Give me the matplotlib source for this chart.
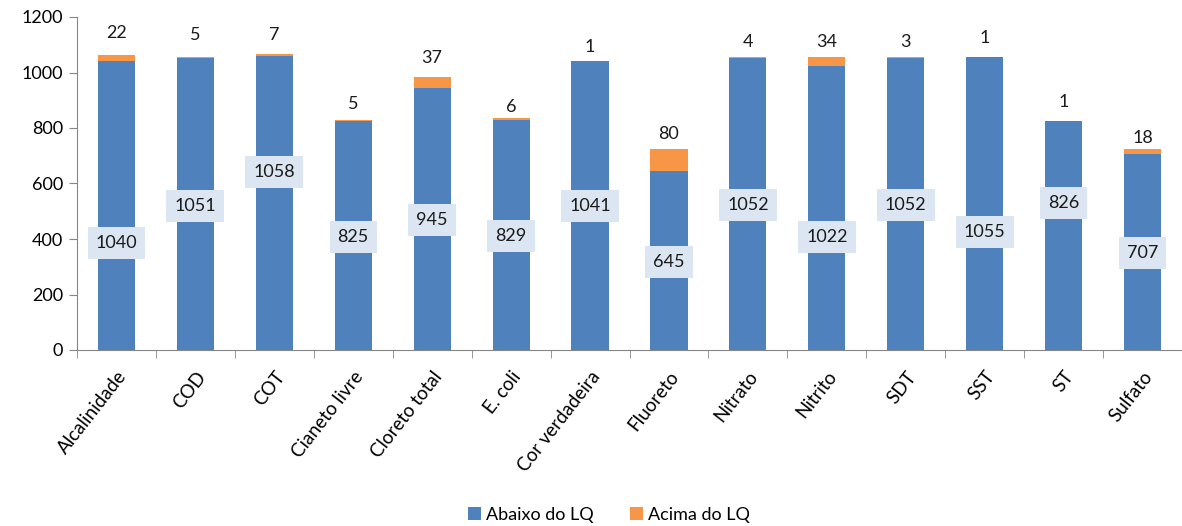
import matplotlib.pyplot as plt
import numpy as np

plt.rcParams['font.family'] = ['Lato', 'DejaVu Sans']

# dados
parametros = ['Alcalinidade', 'COD', 'COT', 'Cianeto livre', 'Cloreto total', 'E. coli',
              'Cor verdadeira', 'Fluoreto', 'Nitrato', 'Nitrito', 'SDT', 'SST', 'ST', 'Sulfato']
abaixo_lq = [1040, 1051, 1058, 825, 945, 829, 1041, 645, 1052, 1022, 1052, 1055, 826, 707]
acima_lq = [22, 5, 7, 5, 37, 6, 1, 80, 4, 34, 3, 1, 1, 18]

# posicao (y) dos rotulos azuis, movidos a mao como no original
pos_rotulo = [386, 519, 641, 407, 468, 411, 519, 317, 522, 407, 522, 425, 530, 350]
# afastamento (pt) dos rotulos laranja acima da barra
desloc_topo = [16, 16, 14, 11, 14, 8, 10, 11, 11, 11, 11, 14, 13, 8]

azul = '#4F81BD'
laranja = '#F79646'
cinza = '#868686'

fig = plt.figure(figsize=(11.82, 5.26), dpi=100)
ax = fig.add_axes([77 / 1182, 1 - 350 / 526, (1182 - 77) / 1182, (350 - 17) / 526])

x = np.arange(len(parametros))
ax.bar(x, abaixo_lq, width=0.47, color=azul, label='Abaixo do LQ')
ax.bar(x, acima_lq, width=0.47, bottom=abaixo_lq, color=laranja, label='Acima do LQ')

for i in range(len(parametros)):
    ax.text(x[i], pos_rotulo[i], str(abaixo_lq[i]), ha='center', va='center', fontsize=13,
            color='#1a1a1a',
            bbox=dict(boxstyle='square,pad=0.45', fc='#DCE6F2', ec='none'))
    ax.annotate(str(acima_lq[i]), (x[i], abaixo_lq[i] + acima_lq[i]),
                xytext=(0, desloc_topo[i]), textcoords='offset points',
                ha='center', va='center', fontsize=13, color='#1a1a1a')

ax.set_xlim(-0.5, len(parametros) - 0.5)
ax.set_ylim(0, 1200)
ax.set_yticks(range(0, 1201, 200))

ax.set_xticks(x)
ax.set_xticklabels(parametros, rotation=52, ha='right', rotation_mode='anchor')
ax.set_xticks(np.arange(-0.5, len(parametros), 1), minor=True)
ax.tick_params(axis='x', which='major', length=0, pad=13, labelsize=13.5)
ax.tick_params(axis='x', which='minor', length=6, color=cinza, direction='out')
ax.tick_params(axis='y', length=6, color=cinza, labelsize=13, pad=4)

for s in ['top', 'right']:
    ax.spines[s].set_visible(False)
for s in ['left', 'bottom']:
    ax.spines[s].set_color(cinza)

fig.legend(loc='center', bbox_to_anchor=(609 / 1182, 1 - 515 / 526), ncol=2, frameon=False,
           fontsize=13, handlelength=0.7, handleheight=0.7, handletextpad=0.3, columnspacing=2.0)

fig.savefig('out.png', dpi=100)
